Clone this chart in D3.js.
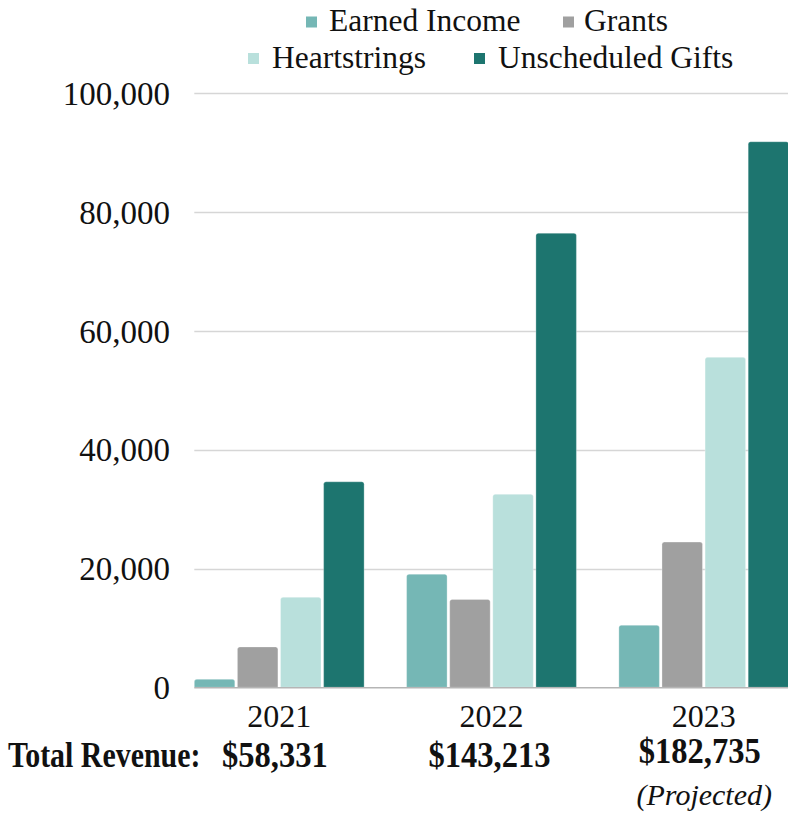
<!DOCTYPE html>
<html>
<head>
<meta charset="utf-8">
<script src="https://cdn.jsdelivr.net/npm/d3@7"></script>
<style>
  html, body { margin: 0; padding: 0; background: #ffffff; }
  svg { display: block; }
</style>
</head>
<body>
<svg id="chart" width="788" height="813"></svg>
<script>
const years = ["2021", "2022", "2023"];
const series = ["Earned Income", "Grants", "Heartstrings", "Unscheduled Gifts"];
const colors = ["#75b7b5", "#a0a0a0", "#b9e0dc", "#1d756f"];
const earnedIncome = [1350, 19050, 10450];
const grants = [6800, 14800, 24450];
const heartstrings = [15150, 32500, 55550];
const unscheduledGifts = [34600, 76450, 91850];
const totals = ["$58,331", "$143,213", "$182,735"];
const yTicks = [0, 20000, 40000, 60000, 80000, 100000];

const FONT = "'Liberation Serif', 'Times New Roman', serif";
const values = [earnedIncome, grants, heartstrings, unscheduledGifts];
const data = years.map((yr, i) => ({
  year: yr,
  bars: series.map((s, j) => ({ key: s, value: values[j][i], color: colors[j] }))
}));

const svg = d3.select("#chart");
const W = 788;
const plotLeft = 194.3, plotRight = 788.7;
const y = d3.scaleLinear().domain([0, 100000]).range([687.3, 93.3]);
const x0 = d3.scaleBand().domain(years).range([plotLeft, plotRight]).paddingInner(0.2).paddingOuter(0);
const x1 = d3.scaleBand().domain(series).range([0, x0.bandwidth()]).paddingInner(0.06).paddingOuter(0);

// gridlines
svg.append("g").selectAll("line").data(yTicks.filter(t => t > 0)).join("line")
  .attr("x1", plotLeft).attr("x2", W)
  .attr("y1", d => Math.round(y(d)) + 0.5).attr("y2", d => Math.round(y(d)) + 0.5)
  .attr("stroke", "#d6d6d6").attr("stroke-width", 1.3);

// y axis labels
const yAxis = d3.axisLeft(y).tickValues(yTicks).tickSize(0).tickPadding(0).tickFormat(d3.format(","));
const gy = svg.append("g").attr("transform", "translate(170,0)").call(yAxis);
gy.attr("font-family", FONT).attr("font-size", 33);
gy.select(".domain").remove();
gy.selectAll("text")
  .attr("font-family", FONT).attr("font-size", 33).attr("fill", "#111")
  .attr("dy", "0.34em");

// bars with rounded top corners
function barPath(x, yTop, w, yBase, r) {
  r = Math.min(r, (yBase - yTop), w / 2);
  return `M${x},${yBase}V${yTop + r}Q${x},${yTop} ${x + r},${yTop}H${x + w - r}Q${x + w},${yTop} ${x + w},${yTop + r}V${yBase}Z`;
}
const groups = svg.append("g").selectAll("g").data(data).join("g")
  .attr("transform", d => `translate(${x0(d.year)},0)`);
groups.selectAll("path").data(d => d.bars).join("path")
  .attr("d", d => barPath(x1(d.key), y(d.value), x1.bandwidth(), y(0), 2.5))
  .attr("fill", d => d.color)
  .attr("stroke", "#ffffff").attr("stroke-opacity", 0.5).attr("stroke-width", 0.6);

// baseline
svg.append("line").attr("x1", plotLeft).attr("x2", W)
  .attr("y1", y(0) + 0.5).attr("y2", y(0) + 0.5)
  .attr("stroke", "#b5b5b5").attr("stroke-width", 1.5);

// x axis year labels
const xAxis = d3.axisBottom(x0).tickSize(0).tickPadding(0);
const gx = svg.append("g").attr("transform", "translate(0,727)").call(xAxis);
gx.attr("font-family", FONT).attr("font-size", 32);
gx.select(".domain").remove();
gx.selectAll("text").attr("font-family", FONT).attr("font-size", 32)
  .attr("fill", "#111").attr("dy", 0).attr("y", 0);

// totals
svg.append("text").attr("transform", "translate(8,766.5) scale(0.855,1)")
  .attr("font-family", FONT).attr("fill", "#111")
  .attr("font-size", 35).attr("font-weight", "bold").text("Total Revenue:");
const totalY = [766.5, 766.5, 763];
const totalX = [222, x0("2022") + x0.bandwidth() / 2 - 2, x0("2023") + x0.bandwidth() / 2 - 4];
svg.append("g").selectAll("text").data(totals).join("text")
  .attr("transform", (d, i) => `translate(${totalX[i]},${totalY[i]}) scale(0.93,1)`)
  .attr("text-anchor", (d, i) => i === 0 ? "start" : "middle")
  .attr("font-family", FONT).attr("fill", "#111")
  .attr("font-size", 35).attr("font-weight", "bold")
  .text(d => d);
svg.append("text").attr("x", x0("2023") + x0.bandwidth() / 2 + 0.5).attr("y", 805)
  .attr("text-anchor", "middle").attr("font-family", FONT).attr("fill", "#111")
  .attr("font-size", 30).attr("font-style", "italic")
  .text("(Projected)");

// legend
const legendItems = [
  { key: series[0], color: colors[0], sx: 306, tx: 329, cy: 22 },
  { key: series[1], color: colors[1], sx: 563, tx: 584, cy: 22 },
  { key: series[2], color: colors[2], sx: 248, tx: 272, cy: 58.5 },
  { key: series[3], color: colors[3], sx: 474, tx: 498, cy: 58.5 }
];
const lg = svg.append("g").selectAll("g").data(legendItems).join("g");
lg.append("rect").attr("x", d => d.sx).attr("y", d => d.cy - 5.5)
  .attr("width", 11).attr("height", 11).attr("fill", d => d.color);
lg.append("text").attr("x", d => d.tx).attr("y", d => d.cy + 9)
  .attr("font-family", FONT).attr("fill", "#111")
  .attr("font-size", 31.5).text(d => d.key);
</script>
</body>
</html>
